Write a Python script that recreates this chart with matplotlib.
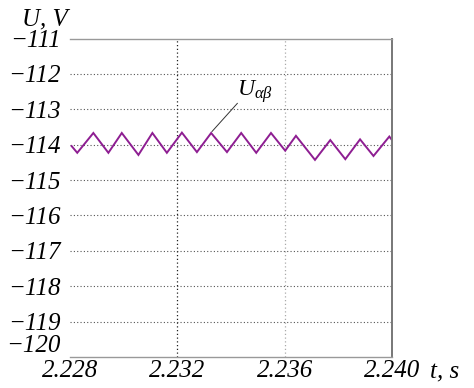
import matplotlib
matplotlib.use("Agg")
import matplotlib.pyplot as plt
from matplotlib.ticker import FixedLocator
from matplotlib.font_manager import FontProperties

# Data
t = [2.22806, 2.22827, 2.22887, 2.22943, 2.22993, 2.23055, 2.23107, 2.23161,
     2.23217, 2.23273, 2.23326, 2.23385, 2.23438, 2.23494, 2.23549, 2.23602,
     2.23642, 2.23713, 2.23770, 2.23826, 2.23881, 2.23931, 2.23990, 2.24000]
u = [-114.04, -114.23, -113.67, -114.23, -113.67, -114.29, -113.67, -114.23,
     -113.66, -114.21, -113.67, -114.21, -113.67, -114.23, -113.67, -114.17,
     -113.75, -114.43, -113.87, -114.41, -113.85, -114.32, -113.77, -113.87]
x_ticks = [2.228, 2.232, 2.236, 2.240]
x_tick_labels = ["2.228", "2.232", "2.236", "2.240"]
y_ticks = [-120, -119, -118, -117, -116, -115, -114, -113, -112, -111]
y_tick_labels = ["\u2212120", "\u2212119", "\u2212118", "\u2212117", "\u2212116",
                 "\u2212115", "\u2212114", "\u2212113", "\u2212112", "\u2212111"]

plt.rcParams["font.family"] = ["Liberation Serif", "DejaVu Serif"]
plt.rcParams["font.style"] = "italic"
plt.rcParams["font.size"] = 17
plt.rcParams["mathtext.fontset"] = "custom"
plt.rcParams["mathtext.it"] = "Liberation Serif:italic"
plt.rcParams["mathtext.rm"] = "Liberation Serif:italic"
plt.rcParams["mathtext.default"] = "it"

fp = FontProperties(family="Liberation Serif", style="italic", size=18)

fig = plt.figure(figsize=(4.74, 3.88), dpi=100)
ax = fig.add_axes([70/474, 1-357/388, 322/474, (357-38.5)/388])

ax.plot(t, u, color="#8E1E92", lw=1.4, solid_joinstyle="miter")
ax.set_xlim(2.228, 2.240)
ax.set_ylim(-120, -111)

ax.xaxis.set_major_locator(FixedLocator(x_ticks))
ax.yaxis.set_major_locator(FixedLocator(y_ticks))
ax.set_xticklabels(x_tick_labels, fontproperties=fp)
ax.set_yticklabels(y_tick_labels, fontproperties=fp)
ax.tick_params(axis="y", length=0, pad=7)
ax.tick_params(axis="x", length=0, pad=2)
for l in ax.get_xticklabels() + ax.get_yticklabels():
    l.set_fontproperties(fp)

# shift bottom y label upwards
ax.get_yticklabels()[0].set_va("bottom")

# grid
for y in y_ticks[1:-1]:
    ax.axhline(y, color="#555555", lw=0.8, ls=(0, (1, 2)), zorder=0)
ax.axvline(2.232, color="#222222", lw=0.9, ls=(0, (1, 2)), zorder=0)
ax.axvline(2.236, color="#aaaaaa", lw=0.9, ls=(0, (1, 2)), zorder=0)

for s in ["top", "bottom"]:
    ax.spines[s].set_color("#999999")
    ax.spines[s].set_linewidth(1.0)
ax.spines["right"].set_color("#777777")
ax.spines["right"].set_linewidth(1.4)
ax.spines["left"].set_visible(False)

# annotation
ax.annotate("", xy=(2.23329, -113.63), xytext=(2.23424, -112.83),
            arrowprops=dict(arrowstyle="-", color="#333333", lw=0.7,
                            shrinkA=0, shrinkB=0))
ax.text(2.23423, -112.62, r"$U_{\alpha\beta}$", fontsize=17,
        ha="left", va="baseline")

fig.text(22/474, 1-25/388, "U, V", fontproperties=fp, ha="left", va="baseline")
fig.text(430/474, 1-378/388, "t, s", fontproperties=fp, ha="left", va="baseline")

fig.savefig("out.png", dpi=100)
